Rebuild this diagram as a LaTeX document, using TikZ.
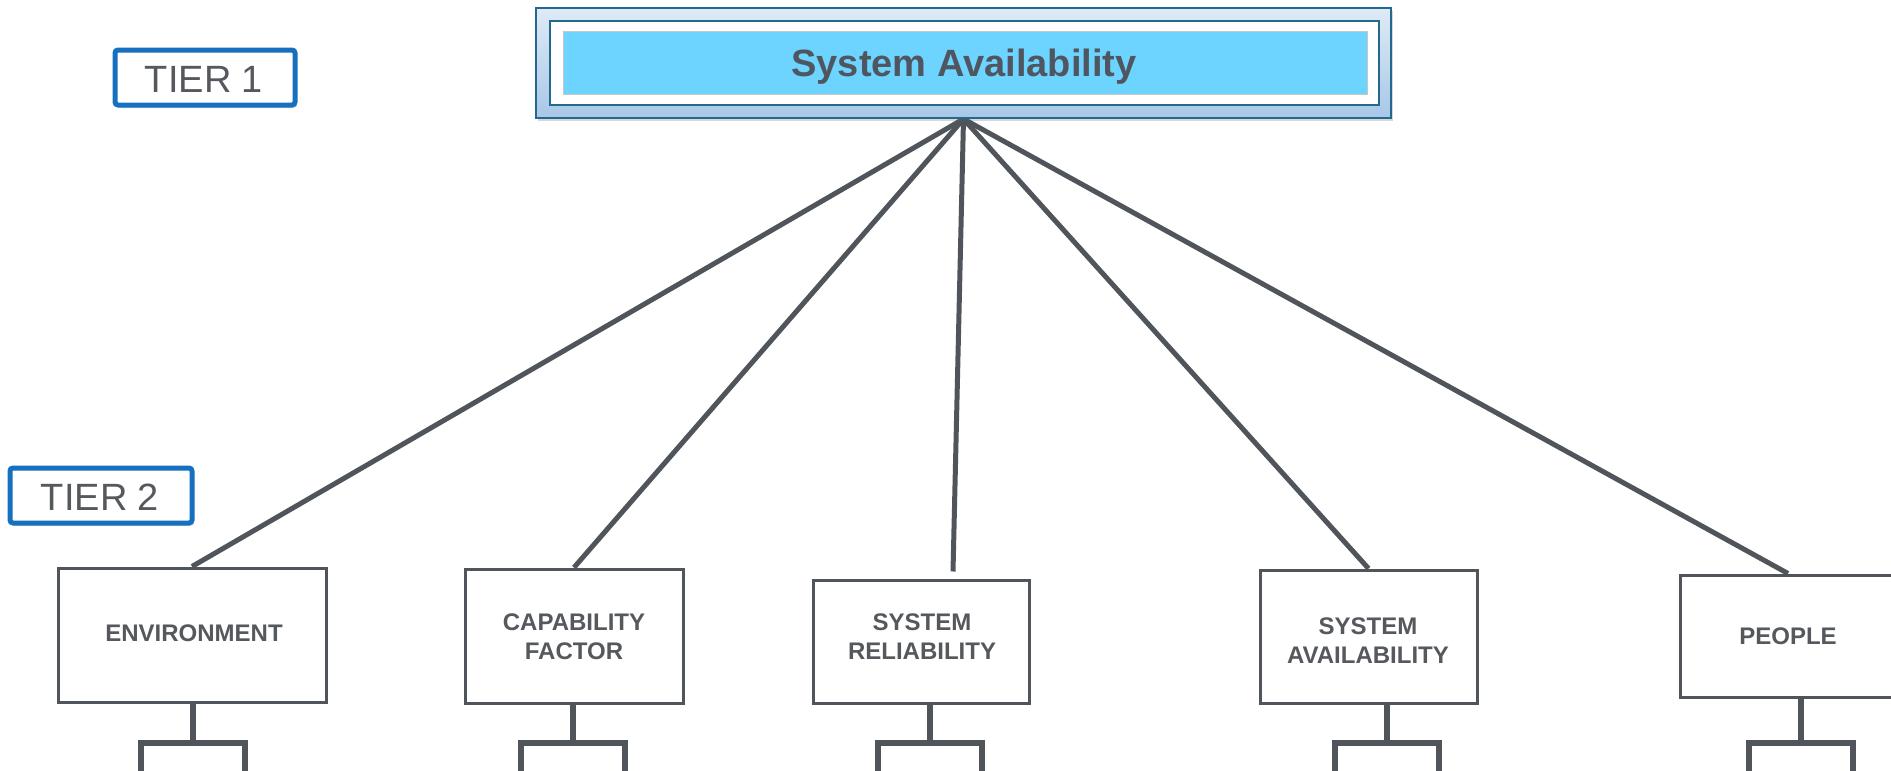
\documentclass[tikz,border=0pt]{standalone}
\usepackage{fontspec}
\setmainfont{Liberation Sans}
\usetikzlibrary{shadows,calc}

\definecolor{linegrey}{HTML}{50555B}
\definecolor{textgrey}{HTML}{55595E}
\definecolor{titlegrey}{HTML}{4F5660}
\definecolor{tierblue}{HTML}{1570C0}
\definecolor{frameteal}{HTML}{23698F}
\definecolor{skytop}{HTML}{DFEBF6}
\definecolor{skybot}{HTML}{A8C7E7}
\definecolor{cyanfill}{HTML}{6DD4FF}

\begin{document}
\begin{tikzpicture}[x=1pt,y=-1pt,
  tierbox/.style={draw=tierblue, line width=5pt, rounded corners=3pt, fill=white,
    minimum width=180pt, minimum height=55pt, inner sep=0pt,
    drop shadow={opacity=0.25, shadow xshift=2pt, shadow yshift=-3pt}},
  tiertext/.style={font=\fontsize{38}{42}\selectfont, text=textgrey, inner sep=0pt},
  factorbox/.style={draw=linegrey, line width=3pt, fill=white, inner sep=0pt},
  factortext/.style={align=center, inner sep=0pt, text=textgrey,
    font=\bfseries\fontsize{24}{29}\selectfont},
  link/.style={draw=linegrey, line width=5pt},
  stemline/.style={draw=linegrey, line width=6pt, line join=miter},
]
% canvas
\fill[white] (0,0) rectangle (1891,771);
\useasboundingbox (0,0) rectangle (1891,771);
\clip (0,0) rectangle (1891,771);

% tier 1 title box, outer frame
\node[draw=frameteal, line width=2pt, top color=skytop, bottom color=skybot,
      minimum width=855pt, minimum height=110pt, inner sep=0pt,
      drop shadow={opacity=0.3, shadow xshift=2pt, shadow yshift=-3pt}] (sys) at (963.5,63) {};

% tier 2 boxes
\node[factorbox, minimum width=268pt, minimum height=134pt] (env)    at (192,635)      {};
\node[factorbox, minimum width=218pt, minimum height=134pt] (cap)    at (574,636)      {};
\node[factorbox, minimum width=216pt, minimum height=123pt] (rel)    at (921,641.5)    {};
\node[factorbox, minimum width=217pt, minimum height=133pt] (avail)  at (1368.5,636.5) {};
\node[factorbox, minimum width=216pt, minimum height=122pt] (people) at (1788,636)     {};

\node[factortext] (envtxt)    at (194,633)  {ENVIRONMENT};
\node[factortext] (captxt)    at (574,637)  {CAPABILITY\\FACTOR};
\node[factortext] (reltxt)    at (922,637)  {SYSTEM\\RELIABILITY};
\node[factortext] (availtxt)  at (1368,641) {SYSTEM\\AVAILABILITY};
\node[factortext] (peopletxt) at (1788,636) {PEOPLE};

% links from the title box down to each factor
\draw[link] (sys.south) -- (env.north);
\draw[link] (sys.south) -- (cap.north);
\draw[link] (sys.south) -- ([xshift=32pt,yshift=7pt]rel.north);
\draw[link] (sys.south) -- (avail.north);
\draw[link] (sys.south) -- (people.north);

% title box drawn over the link ends: frame, inner frame, coloured band
\node[draw=frameteal, line width=2pt, top color=skytop, bottom color=skybot,
      minimum width=855pt, minimum height=110pt, inner sep=0pt] at (sys.center) {};
\node[draw=frameteal, line width=2.5pt, fill=white,
      minimum width=829pt, minimum height=84pt, inner sep=0pt] (sysin) at (964.5,63) {};
\node[draw=black!22, line width=1pt, fill=cyanfill,
      minimum width=804pt, minimum height=63pt, inner sep=0pt] (band) at (965,62.5) {};
\node[text=titlegrey, font=\bfseries\fontsize{38}{42}\selectfont, anchor=base]
      (title) at (964,76) {System Availability};

% tier labels
\node[tierbox] (t1) at (205,77.5) {};
\node[tiertext, anchor=base] (t1txt) at (204,92) {TIER 1};
\node[tierbox, minimum width=182pt] (t2) at (101,495.5) {};
\node[tiertext, anchor=base] (t2txt) at (100,510) {TIER 2};

% branch stubs below each factor
\foreach \b/\sx in {env/193, cap/573, rel/930, avail/1387, people/1801}{
  \coordinate (\b-bar) at (\sx,743);
  \coordinate (\b-l) at (\sx-52,743);
  \coordinate (\b-r) at (\sx+52,743);
  \draw[stemline] (\b.south -| \b-bar) -- (\b-bar);
  \draw[stemline] ($(\b-l)+(0,40)$) -- (\b-l) -- (\b-r) -- ($(\b-r)+(0,40)$);
}
\end{tikzpicture}
\end{document}
